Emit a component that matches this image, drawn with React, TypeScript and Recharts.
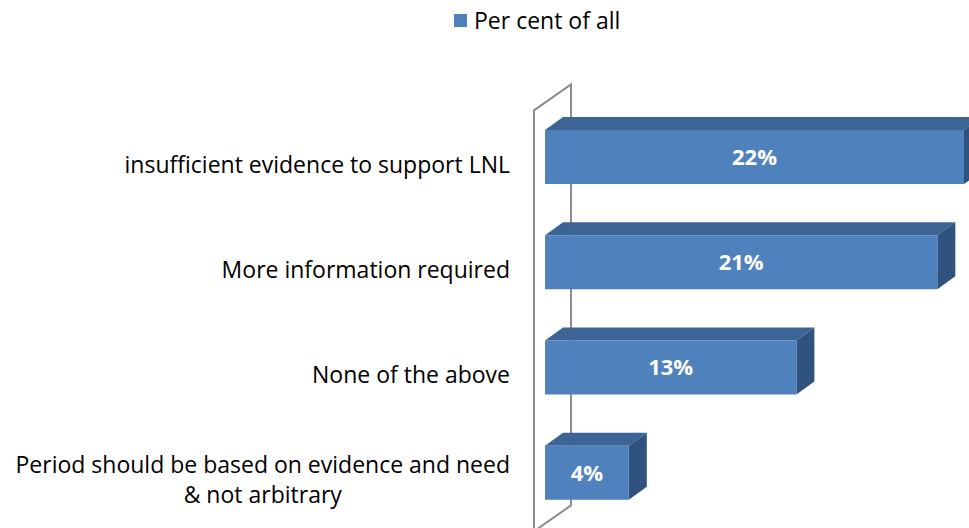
import React from "react";
import { BarChart, Bar, XAxis, YAxis, LabelList, Legend } from "recharts";

// chart values
const categories: string[] = [
  "insufficient evidence to support LNL",
  "More information required",
  "None of the above",
  "Period should be based on evidence and need & not arbitrary",
];
const perCentOfAll: number[] = [22.0, 20.6, 13.2, 4.4];
const seriesName = "Per cent of all";

const data = categories.map((name, i) => ({ name, value: perCentOfAll[i] }));

const WIDTH = 969;
const HEIGHT = 528;
const MARGIN = { top: 104, right: 5, bottom: 3, left: 0 };
const BAND = (HEIGHT - MARGIN.top - MARGIN.bottom) / categories.length;

const FONT = "'Open Sans', sans-serif";
const FONT_SIZE = 23;
const FRONT = "#4f81bd";
const TOP = "#3c6596";
const SIDE = "#30527e";
const WALL = "#8c8c8c";
// depth offset of the 3d bars
const DX = 18;
const DY = -13;

let ctx: CanvasRenderingContext2D | null = null;
const textWidth = (text: string) => {
  if (!ctx) ctx = document.createElement("canvas").getContext("2d");
  if (!ctx) return text.length * 11;
  ctx.font = `${FONT_SIZE}px ${FONT}`;
  return ctx.measureText(text).width;
};

const wrap = (text: string, max: number) => {
  const words = text.split(" ");
  const lines: string[] = [];
  let cur = "";
  words.forEach((w) => {
    const next = cur ? cur + " " + w : w;
    if (cur && textWidth(next) > max) {
      lines.push(cur);
      cur = w;
    } else cur = next;
  });
  if (cur) lines.push(cur);
  return lines;
};

const Bar3D = (props: any) => {
  const { x, y, width, height } = props;
  return (
    <g>
      <path
        d={`M${x},${y} L${x + DX},${y + DY} L${x + width + DX},${y + DY} L${x + width},${y} Z`}
        fill={TOP}
      />
      <path
        d={`M${x + width},${y} L${x + width + DX},${y + DY} L${x + width + DX},${y + height + DY} L${x + width},${y + height} Z`}
        fill={SIDE}
      />
      <rect x={x} y={y} width={width} height={height} fill={FRONT} />
    </g>
  );
};

// back wall of the 3d plot, drawn once from the first bar's background so it sits under the bars
const Wall = (props: any) => {
  const { x, y, height, index } = props;
  if (index !== 0) return <g />;
  const top = y + height / 2 - BAND / 2;
  const bottom = top + BAND * categories.length;
  const fx = x - 11;
  const bx = x + 26;
  return (
    <path
      d={`M${fx},${bottom + 6} L${fx},${top + 6} L${bx},${top - 20} L${bx},${bottom - 20} L${fx},${bottom + 6}`}
      fill="none"
      stroke={WALL}
      strokeWidth={2}
    />
  );
};

const CategoryTick = (props: any) => {
  const { x, y, payload } = props;
  const lines = wrap(payload.value, 500);
  const widest = Math.max(...lines.map((l) => textWidth(l)));
  const cx = x - widest / 2;
  const lh = 30;
  const startY = y + 8 - ((lines.length - 1) * lh) / 2;
  return (
    <text textAnchor="middle" fontFamily={FONT} fontSize={FONT_SIZE} fill="#000">
      {lines.map((l, i) => (
        <tspan key={i} x={cx} y={startY + i * lh} dy="0.35em">
          {l}
        </tspan>
      ))}
    </text>
  );
};

const LegendBox = () => (
  <div
    style={{
      display: "flex",
      alignItems: "center",
      fontFamily: FONT,
      fontSize: FONT_SIZE,
      color: "#000",
      whiteSpace: "nowrap",
    }}
  >
    <span
      style={{ display: "inline-block", width: 13, height: 13, background: FRONT, marginRight: 7 }}
    />
    <span>{seriesName}</span>
  </div>
);

const App = () => {
  return (
    <div style={{ position: "absolute", left: 0, top: 0 }}>
      <BarChart
        width={WIDTH}
        height={HEIGHT}
        data={data}
        layout="vertical"
        margin={MARGIN}
        barSize={54}
      >
        <XAxis type="number" domain={[0, 22]} hide />
        <YAxis
          type="category"
          dataKey="name"
          width={545}
          axisLine={false}
          tickLine={false}
          tickSize={0}
          tickMargin={35}
          tick={<CategoryTick />}
        />
        <Legend
          verticalAlign="middle"
          align="center"
          content={<LegendBox />}
          wrapperStyle={{ top: 4, left: 454, width: "auto" }}
        />
        <Bar
          dataKey="value"
          name={seriesName}
          shape={<Bar3D />}
          background={<Wall />}
          isAnimationActive={false}
        >
          <LabelList
            dataKey="value"
            position="center"
            formatter={(v: any) => `${Math.round(Number(v))}%`}
            fill="#fff"
            fontWeight="bold"
            fontSize={22}
            fontFamily={FONT}
          />
        </Bar>
      </BarChart>
    </div>
  );
};

export default App;
